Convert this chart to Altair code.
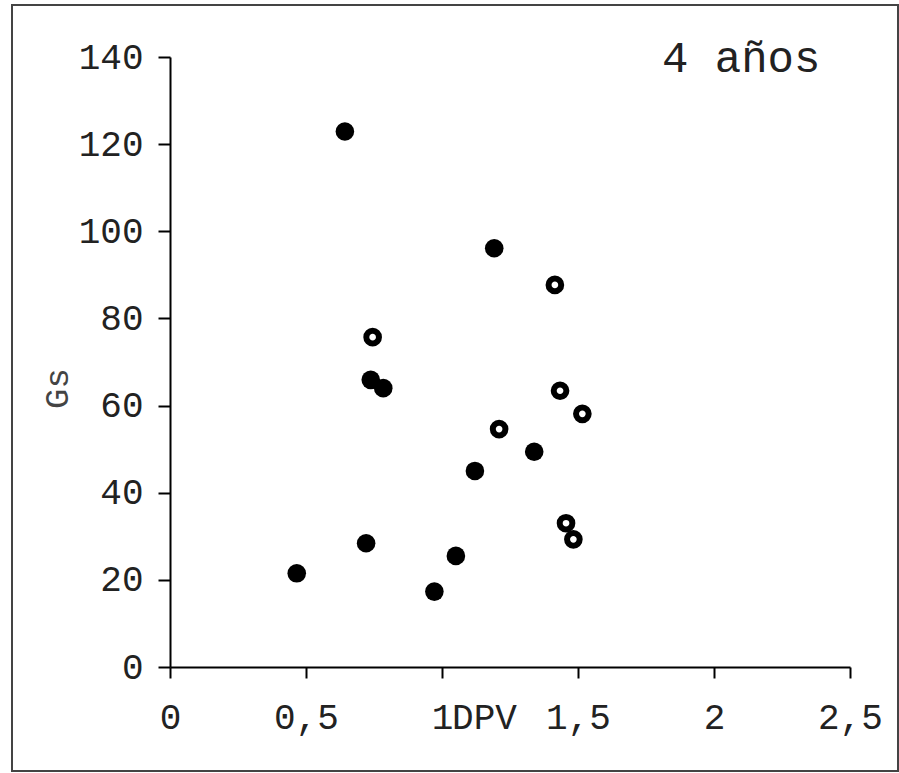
import altair as alt
import pandas as pd

# Gs vs DPV, 4-year-old plants
dpv_filled = [0.643, 1.192, 0.738, 0.784, 1.339, 1.121, 0.721, 0.466, 1.051, 0.972]
gs_filled = [122.9, 96.1, 65.9, 64.0, 49.4, 45.0, 28.4, 21.5, 25.5, 17.3]

dpv_open = [0.745, 1.415, 1.434, 1.516, 1.210, 1.456, 1.483]
gs_open = [75.7, 87.7, 63.4, 58.1, 54.6, 33.0, 29.3]

x_ticks = [0, 0.5, 1, 1.5, 2, 2.5]
y_ticks = [0, 20, 40, 60, 80, 100, 120, 140]

FONT = "Courier New, Liberation Mono, monospace"

filled_df = pd.DataFrame({"DPV": dpv_filled, "Gs": gs_filled})
open_df = pd.DataFrame({"DPV": dpv_open, "Gs": gs_open})

x_enc = alt.X(
    "DPV:Q",
    scale=alt.Scale(domain=[0, 2.5], nice=False, zero=True),
    axis=alt.Axis(
        values=x_ticks,
        format=".1~f",
        labelExpr="replace(datum.label, '.', ',')",
        labelFlush=False,
        labelOverlap=False,
        title="DPV",
        titleX=314,
        titleY=61,
        titleAlign="center",
        titleBaseline="alphabetic",
        titleFont=FONT,
        titleFontSize=36,
        titleFontWeight="normal",
        titleColor="#222",
        tickSize=11,
        labelPadding=22,
        labelBaseline="top",
    ),
)
y_enc = alt.Y(
    "Gs:Q",
    scale=alt.Scale(domain=[0, 140], nice=False),
    axis=alt.Axis(
        values=y_ticks,
        labelFlush=False,
        labelOverlap=False,
        title="Gs",
        titleAngle=-90,
        titleX=-113,
        titleY=331,
        titleAlign="center",
        titleBaseline="middle",
        titleFont=FONT,
        titleFontSize=34,
        titleFontWeight="normal",
        titleColor="#444",
        tickSize=12,
        labelPadding=15,
    ),
)

filled = alt.Chart(filled_df).mark_circle(size=346, color="black", opacity=1).encode(
    x=x_enc, y=y_enc
)

hollow = alt.Chart(open_df).mark_point(
    shape="circle", filled=False, size=160, stroke="black", strokeWidth=6, opacity=1
).encode(x="DPV:Q", y="Gs:Q")

frame = alt.Chart(alt.Data(values=[{}])).mark_rect(
    filled=False, stroke="#444", strokeWidth=2
).encode(
    x=alt.value(-158), x2=alt.value(728), y=alt.value(-52), y2=alt.value(714)
)

label = alt.Chart(alt.Data(values=[{}])).mark_text(
    text="4 años", font=FONT, fontSize=44, align="left", baseline="alphabetic", color="#222"
).encode(x=alt.value(492), y=alt.value(15))

chart = (
    alt.layer(frame, filled, hollow, label)
    .properties(
        width=680,
        height=610,
        autosize=alt.AutoSizeParams(type="none"),
        padding={"left": 170, "top": 57, "right": 49, "bottom": 106},
        background="white",
    )
    .configure_view(stroke=None)
    .configure_axis(
        domainColor="black",
        domainWidth=2,
        tickColor="black",
        tickWidth=2,
        grid=False,
        labelFont=FONT,
        labelFontSize=36,
        labelColor="#222",
    )
)

chart.save("out.html", embed_options={"renderer": "svg", "actions": False})
